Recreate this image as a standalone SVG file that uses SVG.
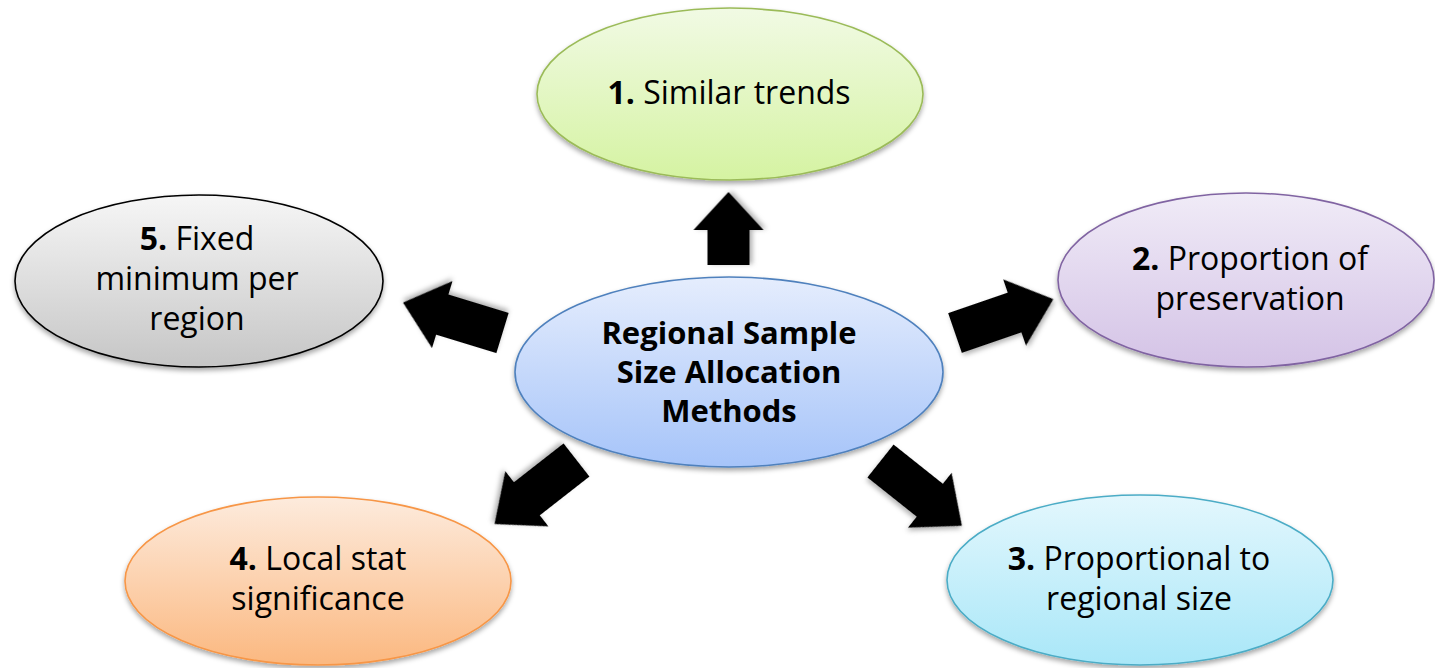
<svg xmlns="http://www.w3.org/2000/svg" width="1435" height="668" viewBox="0 0 1435 668">
  <defs>
    <style>
      .lbl { font-family: "Open Sans", "Liberation Sans", sans-serif; font-size: 32px; fill: #000; text-anchor: middle; }
      .ctr { font-family: "Open Sans", "Liberation Sans", sans-serif; font-size: 31px; font-weight: bold; fill: #000; text-anchor: middle; }
      .b { font-weight: bold; }
      .node { stroke-width: 1.6; filter: url(#shadow); }
      .arrow { fill: #000; filter: url(#ashadow); }
    </style>
    <filter id="shadow" x="-10%" y="-10%" width="120%" height="130%">
      <feDropShadow dx="0" dy="3" stdDeviation="2.5" flood-color="#000" flood-opacity="0.35"/>
    </filter>
    <filter id="ashadow" x="-20%" y="-20%" width="140%" height="140%">
      <feDropShadow dx="1" dy="3" stdDeviation="2.5" flood-color="#000" flood-opacity="0.3"/>
    </filter>
    <linearGradient id="gGreen" x1="0" y1="0" x2="0" y2="1">
      <stop offset="0" stop-color="#f1faE4"/>
      <stop offset="1" stop-color="#d5f3a2"/>
    </linearGradient>
    <linearGradient id="gPurple" x1="0" y1="0" x2="0" y2="1">
      <stop offset="0" stop-color="#f0ebf7"/>
      <stop offset="1" stop-color="#d4c3e6"/>
    </linearGradient>
    <linearGradient id="gGray" x1="0" y1="0" x2="0" y2="1">
      <stop offset="0" stop-color="#f6f6f6"/>
      <stop offset="1" stop-color="#c6c6c6"/>
    </linearGradient>
    <linearGradient id="gOrange" x1="0" y1="0" x2="0" y2="1">
      <stop offset="0" stop-color="#fdebdd"/>
      <stop offset="1" stop-color="#fbb880"/>
    </linearGradient>
    <linearGradient id="gCyan" x1="0" y1="0" x2="0" y2="1">
      <stop offset="0" stop-color="#e3f7fd"/>
      <stop offset="1" stop-color="#a9e7f8"/>
    </linearGradient>
    <linearGradient id="gBlue" x1="0" y1="0" x2="0" y2="1">
      <stop offset="0" stop-color="#e5edfd"/>
      <stop offset="1" stop-color="#a6c4f9"/>
    </linearGradient>
    <path id="arrowLong" d="M0,-21 H63 V-35 L104,0 L63,35 V21 H0 Z"/>
    <path id="arrowShort" d="M0,-21 H35 V-35 L73,0 L35,35 V21 H0 Z"/>
  </defs>

  <rect width="1435" height="668" fill="#fff"/>

  <g id="connectors">
    <use href="#arrowShort" class="arrow" transform="translate(728.5,265) rotate(-90)"/>
    <use href="#arrowLong" class="arrow" transform="translate(955,333) rotate(-19)"/>
    <use href="#arrowLong" class="arrow" transform="translate(880.5,461) rotate(38.5)"/>
    <use href="#arrowLong" class="arrow" transform="translate(576.5,460) rotate(142)"/>
    <use href="#arrowLong" class="arrow" transform="translate(502.5,333) rotate(197)"/>
  </g>

  <g id="node-center">
    <ellipse class="node" cx="729" cy="372" rx="214" ry="95" fill="url(#gBlue)" stroke="#4f81bd"/>
    <text class="ctr" x="729" y="344">Regional Sample</text>
    <text class="ctr" x="729" y="383">Size Allocation</text>
    <text class="ctr" x="729" y="422">Methods</text>
  </g>

  <g id="node-1">
    <ellipse class="node" cx="730" cy="94" rx="193" ry="86" fill="url(#gGreen)" stroke="#9bbb59"/>
    <text class="lbl" x="729" y="104"><tspan class="b">1.</tspan> Similar trends</text>
  </g>

  <g id="node-2">
    <ellipse class="node" cx="1246" cy="280" rx="188" ry="87" fill="url(#gPurple)" stroke="#8064a2"/>
    <text class="lbl" x="1250" y="270"><tspan class="b">2.</tspan> Proportion of</text>
    <text class="lbl" x="1250" y="310">preservation</text>
  </g>

  <g id="node-3">
    <ellipse class="node" cx="1140" cy="580" rx="193" ry="85" fill="url(#gCyan)" stroke="#4bacc6"/>
    <text class="lbl" x="1139" y="570"><tspan class="b">3.</tspan> Proportional to</text>
    <text class="lbl" x="1139" y="610">regional size</text>
  </g>

  <g id="node-4">
    <ellipse class="node" cx="318" cy="581" rx="193" ry="84" fill="url(#gOrange)" stroke="#f79646"/>
    <text class="lbl" x="318" y="570"><tspan class="b">4.</tspan> Local stat</text>
    <text class="lbl" x="318" y="610">significance</text>
  </g>

  <g id="node-5">
    <ellipse class="node" cx="199" cy="281" rx="184" ry="86" fill="url(#gGray)" stroke="#000"/>
    <text class="lbl" x="197" y="250"><tspan class="b">5.</tspan> Fixed</text>
    <text class="lbl" x="197" y="290">minimum per</text>
    <text class="lbl" x="197" y="330">region</text>
  </g>
</svg>
